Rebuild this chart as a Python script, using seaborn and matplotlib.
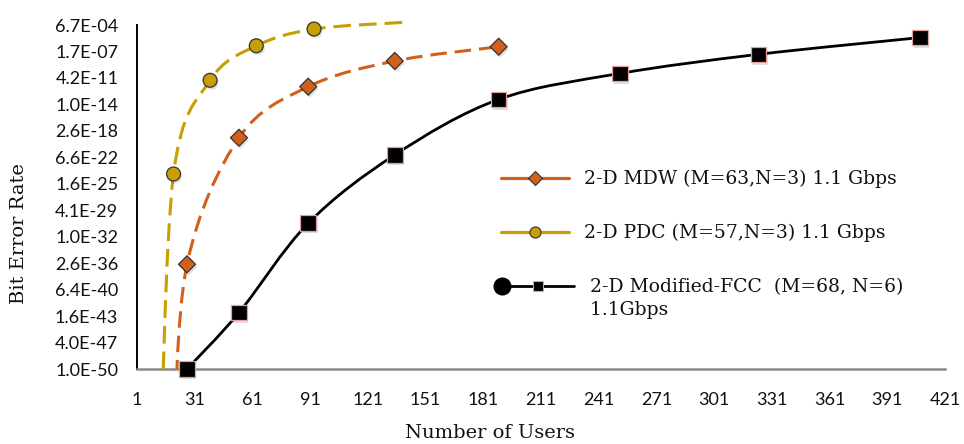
import numpy as np
import pandas as pd
import matplotlib
matplotlib.use("Agg")
import matplotlib.pyplot as plt
import seaborn as sns
from matplotlib.path import Path
from matplotlib.patches import PathPatch, Rectangle
from matplotlib.lines import Line2D
from matplotlib.legend_handler import HandlerBase
from matplotlib.ticker import FixedLocator, MultipleLocator
import matplotlib.patheffects as pe

# ---------------- data ----------------
# 2-D Modified-FCC (M=68, N=6) 1.1Gbps
fcc_users = [27, 54, 90, 135, 189, 252, 324, 408]
fcc_ber = [1.0e-50, 4.7e-43, 7.0e-31, 1.4e-21, 5.0e-14, 1.7e-10, 6.8e-08, 1.3e-05]

# 2-D MDW (M=63,N=3) 1.1 Gbps  (first point lies below the axis range)
mdw_users = [20, 27, 54, 90, 135, 189]
mdw_ber = [1.0e-61, 1.8e-36, 3.0e-19, 2.7e-12, 8.5e-09, 7.4e-07]

# 2-D PDC (M=57,N=3) 1.1 Gbps  (first / last points lie outside the axis range)
pdc_users = [13, 20, 39, 63, 93, 139]
pdc_ber = [1.0e-64, 3.5e-24, 2.0e-11, 1.0e-06, 1.9e-04, 1.5e-03]

labels = ["2-D MDW (M=63,N=3) 1.1 Gbps",
          "2-D PDC (M=57,N=3) 1.1 Gbps",
          " 2-D Modified-FCC  (M=68, N=6)\n 1.1Gbps"]

y_ticks = [1.0e-50 * 4000.0 ** k for k in range(14)]
x_ticks = list(range(1, 422, 30))

C_MDW = "#D2601A"
C_PDC = "#C99E00"
C_FCC = "#000000"

FCC_LINESPACING = 1.39

# ---------------- style ----------------
sns.set_style("white")
plt.rcParams["font.family"] = ["DejaVu Serif"]

fig = plt.figure(figsize=(9.64, 4.44), dpi=100)
ax = fig.add_axes([137 / 964, 75 / 444, 808 / 964, 344 / 444])
ax.set_yscale("log")
ax.set_xlim(1, 421)
ax.set_ylim(y_ticks[0], y_ticks[-1])

clip_rect = Rectangle((0, 0), 1, 1.03, transform=ax.transAxes)
shadow = [pe.SimplePatchShadow(offset=(1.2, -1.8), shadow_rgbFace="#000000", alpha=0.12),
          pe.Normal()]


def smooth_path(xs, ys):
    """Excel-like smoothed line: Catmull-Rom Bezier through the data points."""
    P = np.column_stack([np.asarray(xs, float), np.log10(np.asarray(ys, float))])
    n = len(P)
    verts = [P[0]]
    codes = [Path.MOVETO]
    for i in range(n - 1):
        p0 = P[i - 1] if i > 0 else P[i]
        p1, p2 = P[i], P[i + 1]
        p3 = P[i + 2] if i + 2 < n else P[i + 1]
        verts += [p1 + (p2 - p0) / 6.0, p2 - (p3 - p1) / 6.0, p2]
        codes += [Path.CURVE4] * 3
    V = np.array(verts)
    V[:, 1] = 10.0 ** V[:, 1]
    return Path(V, codes)


def draw_series(xs, ys, color, lw, ls, marker, s, ec):
    patch = PathPatch(smooth_path(xs, ys), facecolor="none", edgecolor=color,
                      lw=lw, linestyle=ls, zorder=3, capstyle="butt")
    ax.add_patch(patch)
    patch.set_clip_path(clip_rect)
    df = pd.DataFrame({"users": xs, "ber": ys})
    df = df[(df.ber >= y_ticks[0] * 0.999) & (df.ber <= y_ticks[-1])]
    sns.scatterplot(data=df, x="users", y="ber", marker=marker, s=s, color=color,
                    edgecolor=ec, linewidth=0.9, zorder=4, ax=ax, legend=False,
                    clip_on=False)
    ax.collections[-1].set_path_effects(shadow)


draw_series(pdc_users, pdc_ber, C_PDC, 2.2, (0, (5.8, 2.6)), "o", 100, "#333333")
draw_series(mdw_users, mdw_ber, C_MDW, 2.2, (0, (5.4, 2.6)), "D", 75, "#333333")
draw_series(fcc_users, fcc_ber, C_FCC, 2.0, "-", "s", 125, "#e0a0a0")

# ---------------- axes ----------------
ax.yaxis.set_major_locator(FixedLocator(y_ticks))
ax.yaxis.set_minor_locator(FixedLocator([]))
ax.set_yticklabels([f"{v:.1E}" for v in y_ticks])
ax.xaxis.set_major_locator(FixedLocator(x_ticks))
ax.xaxis.set_minor_locator(MultipleLocator(6))
ax.set_xticklabels([str(v) for v in x_ticks])

for side in ["top", "right"]:
    ax.spines[side].set_visible(False)
ax.spines["left"].set_color("black")
ax.spines["left"].set_linewidth(1.4)
ax.spines["bottom"].set_color("#8a8a8a")
ax.spines["bottom"].set_linewidth(1.8)
ax.spines["bottom"].set_zorder(2.5)

ax.tick_params(axis="y", which="major", direction="out", length=5.5, width=1.4,
               color="black", pad=8, labelsize=13)
ax.tick_params(axis="x", which="both", direction="inout", length=7, width=1.4,
               color="#8a8a8a", pad=13, labelsize=13)
for lab in ax.get_xticklabels() + ax.get_yticklabels():
    lab.set_fontfamily(["Lato", "DejaVu Sans"])
    lab.set_color("#111111")

ax.set_xlabel("Number of Users", fontsize=14, color="#111111")
ax.set_ylabel("Bit Error Rate", fontsize=14, color="#111111")
ax.xaxis.set_label_coords((490 - 137) / 808, -(433 - 369) / 344)
ax.yaxis.set_label_coords((19 - 137) / 808, (369 - 234) / 344)
ax.xaxis.label.set_va("center")
ax.yaxis.label.set_va("center")


# ---------------- legend ----------------
class FCCHandler(HandlerBase):
    def create_artists(self, legend, orig_handle, xdescent, ydescent, width,
                       height, fontsize, trans):
        y = (height - ydescent) / 2.0 + 0.5 * FCC_LINESPACING * fontsize
        x0, x1 = -xdescent + 1, width - xdescent + 4
        line = Line2D([x0, x1], [y, y], color="black", lw=2.0)
        sq = Line2D([(x0 + x1) / 2], [y], marker="s", ms=7.5, mfc="black",
                    mec="#e0a0a0", mew=0.8, ls="none")
        circ = Line2D([x0], [y], marker="o", ms=12, color="black", ls="none")
        for a in (line, sq, circ):
            a.set_transform(trans)
        return [line, sq, circ]


h_mdw = Line2D([], [], color=C_MDW, lw=2.3, marker="D", ms=7, mfc=C_MDW, mec="#333333", mew=0.8)
h_pdc = Line2D([], [], color=C_PDC, lw=2.3, marker="o", ms=8, mfc=C_PDC, mec="#333333", mew=0.8)
h_fcc = Line2D([], [], color="black")

leg = fig.legend([h_mdw, h_pdc, h_fcc], labels, loc="upper left",
                 bbox_to_anchor=(501 / 964, 1 - 170 / 444), frameon=False,
                 fontsize=13.5, handlelength=3.6, handletextpad=0.85,
                 labelspacing=1.9, borderpad=0, borderaxespad=0,
                 handler_map={h_fcc: FCCHandler()})
for t in leg.get_texts():
    t.set_color("#111111")
leg.get_texts()[2].set_linespacing(FCC_LINESPACING)

fig.savefig("out.png", dpi=100)
